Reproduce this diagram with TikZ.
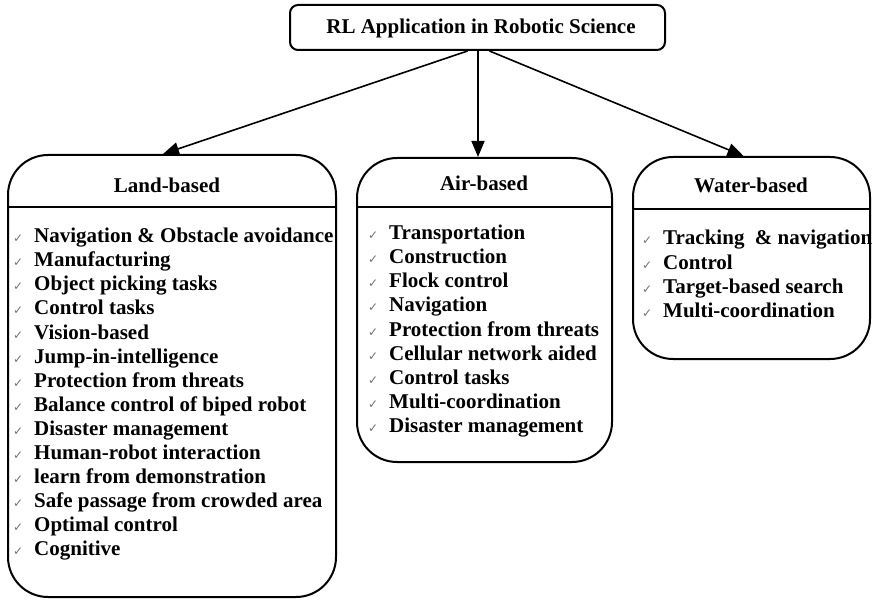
\documentclass[tikz,border=0pt]{standalone}
\usepackage{fontspec}
\setmainfont{Liberation Serif}
\newfontfamily\chkfont{DejaVu Sans}
\usetikzlibrary{arrows.meta}
\newcommand\chk{\makebox[21pt][l]{\chkfont\fontsize{12}{12}\selectfont\color{black!55}✓}}
\begin{document}
\begin{tikzpicture}[x=1pt,y=-1pt,
  box/.style={draw, line width=2pt, rounded corners=40pt, inner sep=0pt},
  hdr/.style={anchor=base, inner sep=0pt, font=\fontsize{21}{24}\selectfont\bfseries},
  item/.style={anchor=base west, inner sep=0pt, font=\fontsize{21}{24}\selectfont\bfseries},
  sep/.style={line width=2pt},
  conn/.style={line width=1.6pt, -{Triangle[length=16pt,width=13pt]}}]
\useasboundingbox (0,0) rectangle (872,601);

% top box
\node[draw, line width=2pt, rounded corners=8pt, minimum width=375pt, minimum height=45pt, inner sep=0pt] (top) at (477.5,27.5) {};
\node[hdr] (toptext) at (481,34) {RL Application in Robotic Science};

% category boxes
\node[box, minimum width=328pt, minimum height=442pt] (land) at (172,376) {};
\node[box, minimum width=255pt, minimum height=304pt] (air) at (484.5,310) {};
\node[box, minimum width=237pt, minimum height=202pt] (water) at (751.5,258) {};

% header separators
\draw[sep] (land.west |- 0,207) -- (land.east |- 0,207);
\draw[sep] (air.west |- 0,207) -- (air.east |- 0,207);
\draw[sep] (water.west |- 0,209) -- (water.east |- 0,209);

% headers
\node[hdr] (landh) at (167,193) {Land-based};
\node[hdr] (airh) at (484,191) {Air-based};
\node[hdr] (waterh) at (751,193) {Water-based};

% items
\foreach [count=\i from 0] \t in {Navigation \& Obstacle avoidance, Manufacturing, Object picking tasks, Control tasks, Vision-based, Jump-in-intelligence, Protection from threats, Balance control of biped robot, Disaster management, Human-robot interaction, learn from demonstration, Safe passage from crowded area, Optimal control, Cognitive}
  \node[item] (l\i) at (13,{243+24*\i}) {\chk\t};

\foreach [count=\i from 0] \t in {Transportation, Construction, Flock control, Navigation, Protection from threats, Cellular network aided, Control tasks, Multi-coordination, Disaster management}
  \node[item] (a\i) at (368,{240+24*\i}) {\chk\t};

\foreach [count=\i from 0] \t in {Tracking~ \& navigation, Control, Target-based search, Multi-coordination}
  \node[item] (w\i) at (642,{245+24.3*\i}) {\chk\t};

% connectors
\draw[conn] ([xshift=-10pt]top.south) -- ([xshift=-9pt]land.north);
\draw[conn] ([xshift=0.5pt]top.south) -- ([xshift=0.5pt]top.south |- air.north);
\draw[conn] ([xshift=12pt]top.south) -- ([xshift=-8pt]water.north);
\end{tikzpicture}
\end{document}
